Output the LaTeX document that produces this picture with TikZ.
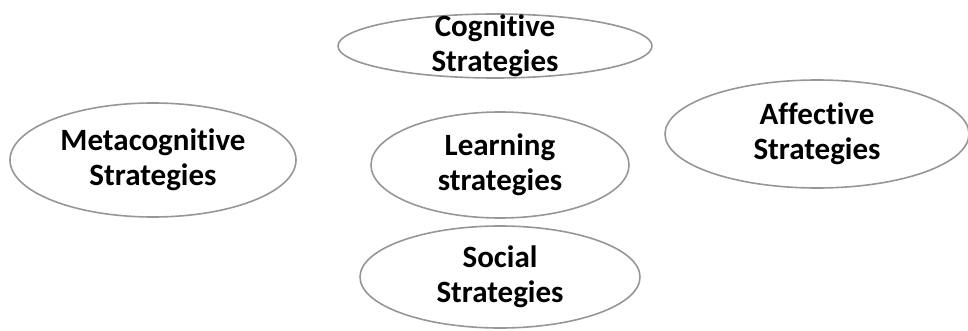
\documentclass[tikz,border=0pt]{standalone}
\usepackage{fontspec}
\setmainfont{Carlito}[Ligatures=NoCommon]
\usepackage{xcolor}
\definecolor{rimgray}{RGB}{150,150,150}

\begin{document}
\begin{tikzpicture}[x=1pt, y=-1pt, font=\fontsize{31}{35}\selectfont\bfseries]
  \useasboundingbox (0,0) rectangle (968,331);
  \draw [line width=1.6pt, rimgray] (495,46) ellipse [x radius=157pt, y radius=32pt] node (cog) [black, text width=8cm, align=center] {Cognitive \\ Strategies};
  \draw [line width=1.6pt, rimgray] (153,160) ellipse [x radius=143pt, y radius=57pt] node (meta) [black, text width=8cm, align=center] {Metacognitive \\ Strategies};
  \draw [line width=1.6pt, rimgray] (500,165) ellipse [x radius=129pt, y radius=53pt] node (learn) [black, text width=8cm, align=center] {Learning \\ strategies};
  \draw [line width=1.6pt, rimgray] (817,134) ellipse [x radius=152pt, y radius=54pt] node (aff) [black, text width=8cm, align=center] {Affective \\ Strategies};
  \draw [line width=1.6pt, rimgray] (500,277) ellipse [x radius=140pt, y radius=51pt] node (soc) [black, text width=8cm, align=center] {Social \\ Strategies};
\end{tikzpicture}
\end{document}
